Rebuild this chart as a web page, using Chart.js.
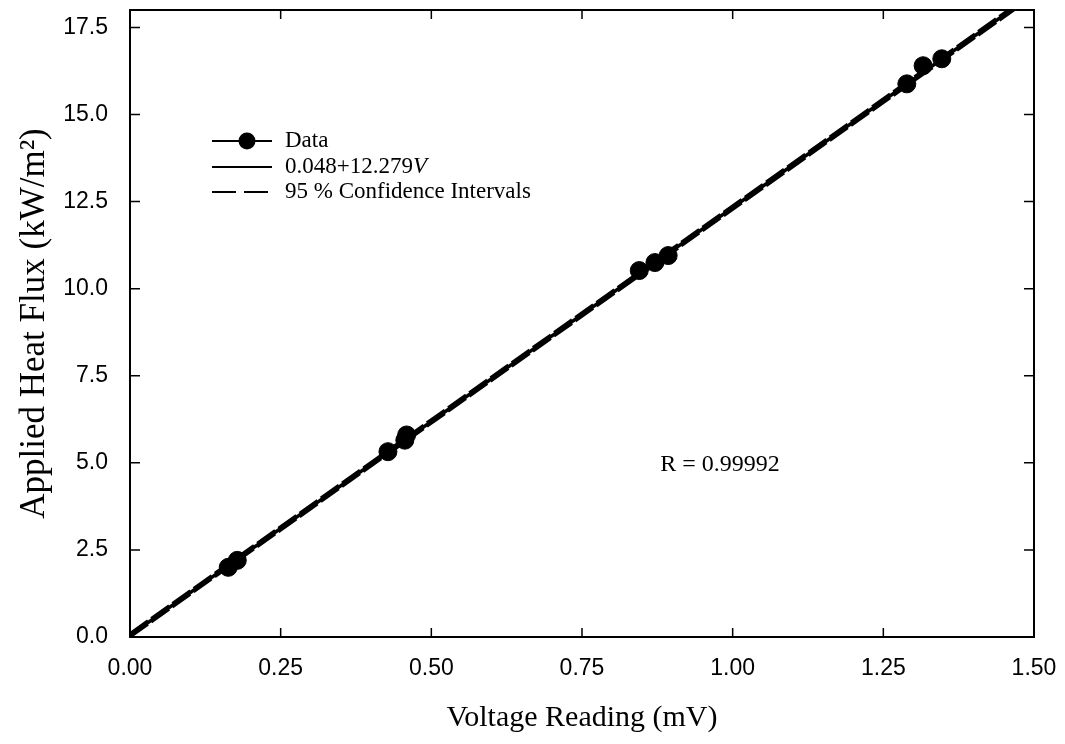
<!DOCTYPE html>
<html>
<head>
<meta charset="utf-8">
<script src="https://cdn.jsdelivr.net/npm/chart.js@4.4.0/dist/chart.umd.min.js"></script>
<style>
  html, body { margin: 0; padding: 0; background: #fff; }
  #wrap { width: 1065px; height: 744px; }
</style>
</head>
<body>
<div id="wrap"><canvas id="heatChart" width="1065" height="744"></canvas></div>
<script>
// measured points (voltage in mV, heat flux in kW/m2)
const voltage = [0.163, 0.178, 0.428, 0.456, 0.459, 0.845, 0.871, 0.893, 1.289, 1.316, 1.347];
const heatFlux = [2.00, 2.20, 5.32, 5.65, 5.80, 10.52, 10.75, 10.95, 15.88, 16.40, 16.60];

// regression line 0.048 + 12.279 V, end points
const fitX = [0, 1.5];
const fitY = [0.048, 18.467];
// 95 % confidence bands, end points
const ciUpperY = [0.10, 18.52];
const ciLowerY = [0.00, 18.41];

const xTicks = [0, 0.25, 0.5, 0.75, 1.0, 1.25, 1.5];
const yTicks = [0, 2.5, 5, 7.5, 10, 12.5, 15, 17.5];

const serif = '"Liberation Serif", "Times New Roman", serif';
const sans = '"Liberation Sans", Arial, sans-serif';

function pts(xs, ys) {
    return xs.map((x, i) => ({ x: x, y: ys[i] }));
}

// frame, inward ticks, legend and R label
const decorPlugin = {
    id: 'decor',
    afterDraw(chart) {
        const ctx = chart.ctx;
        const a = chart.chartArea;
        const xs = chart.scales.x;
        const ys = chart.scales.y;
        ctx.save();
        ctx.strokeStyle = '#000';
        ctx.lineWidth = 2;
        ctx.strokeRect(a.left, a.top, a.right - a.left, a.bottom - a.top);

        ctx.lineWidth = 1.5;
        ctx.beginPath();
        xTicks.forEach(v => {
            const px = xs.getPixelForValue(v);
            ctx.moveTo(px, a.bottom); ctx.lineTo(px, a.bottom - 9);
            ctx.moveTo(px, a.top); ctx.lineTo(px, a.top + 9);
        });
        yTicks.forEach(v => {
            const py = ys.getPixelForValue(v);
            ctx.moveTo(a.left, py); ctx.lineTo(a.left + 10, py);
            ctx.moveTo(a.right, py); ctx.lineTo(a.right - 10, py);
        });
        ctx.stroke();

        // legend
        const lx0 = 212, lx1 = 272, tx = 285;
        const rows = [141, 167, 192];
        ctx.fillStyle = '#000';
        ctx.strokeStyle = '#000';
        ctx.lineWidth = 2;
        ctx.beginPath();
        ctx.moveTo(lx0, rows[0]); ctx.lineTo(lx1, rows[0]);
        ctx.stroke();
        ctx.beginPath();
        ctx.arc(247, rows[0], 8.5, 0, Math.PI * 2);
        ctx.fill();
        ctx.beginPath();
        ctx.moveTo(lx0, rows[1]); ctx.lineTo(lx1, rows[1]);
        ctx.stroke();
        ctx.setLineDash([24, 8]);
        ctx.beginPath();
        ctx.moveTo(lx0, rows[2]); ctx.lineTo(lx1, rows[2]);
        ctx.stroke();
        ctx.setLineDash([]);

        ctx.textBaseline = 'middle';
        ctx.textAlign = 'left';
        ctx.font = '23px ' + serif;
        ctx.fillText('Data', tx, rows[0]);
        const eq = '0.048+12.279';
        ctx.fillText(eq, tx, rows[1]);
        const w = ctx.measureText(eq).width;
        ctx.font = 'italic 23px ' + serif;
        ctx.fillText('V', tx + w, rows[1]);
        ctx.font = '23px ' + serif;
        ctx.fillText('95 % Confidence Intervals', tx, rows[2]);

        ctx.font = '24px ' + serif;
        ctx.textAlign = 'center';
        ctx.fillText('R = 0.99992', 720, 465);
        ctx.restore();
    }
};

const ctx = document.getElementById('heatChart').getContext('2d');
new Chart(ctx, {
    type: 'scatter',
    data: {
        datasets: [
            {
                label: '95 % Confidence Intervals',
                data: pts(fitX, ciUpperY),
                showLine: true,
                borderColor: '#000',
                borderWidth: 3,
                borderDash: [22, 4],
                pointRadius: 0
            },
            {
                label: '95 % Confidence Intervals (lower)',
                data: pts(fitX, ciLowerY),
                showLine: true,
                borderColor: '#000',
                borderWidth: 3,
                borderDash: [22, 4],
                pointRadius: 0
            },
            {
                label: '0.048+12.279V',
                data: pts(fitX, fitY),
                showLine: true,
                borderColor: '#000',
                borderWidth: 3.5,
                pointRadius: 0
            },
            {
                label: 'Data',
                data: pts(voltage, heatFlux),
                showLine: false,
                backgroundColor: '#000',
                borderColor: '#000',
                pointRadius: 9,
                pointHoverRadius: 9
            }
        ]
    },
    options: {
        responsive: false,
        animation: false,
        events: [],
        layout: { padding: { top: 9, right: 31, left: 0, bottom: 0 } },
        plugins: {
            legend: { display: false },
            tooltip: { enabled: false }
        },
        scales: {
            x: {
                type: 'linear',
                min: 0,
                max: 1.5,
                afterFit: s => { s.height = 107; s.paddingLeft = 0; s.paddingRight = 0; },
                afterBuildTicks: s => { s.ticks = xTicks.map(v => ({ value: v })); },
                grid: { display: false },
                border: { display: false },
                ticks: {
                    color: '#000',
                    padding: 10,
                    maxRotation: 0,
                    font: { family: sans, size: 23 },
                    callback: v => Number(v).toFixed(2)
                },
                title: {
                    display: true,
                    text: 'Voltage Reading (mV)',
                    color: '#000',
                    font: { family: serif, size: 30 },
                    padding: { top: 0, bottom: 8 }
                }
            },
            y: {
                type: 'linear',
                min: 0,
                max: 18,
                afterFit: s => { s.width = 130; s.paddingTop = 0; s.paddingBottom = 0; },
                afterBuildTicks: s => { s.ticks = yTicks.map(v => ({ value: v })); },
                grid: { display: false },
                border: { display: false },
                ticks: {
                    color: '#000',
                    padding: 14,
                    font: { family: sans, size: 23 },
                    callback: v => Number(v).toFixed(1)
                },
                title: {
                    display: true,
                    text: 'Applied Heat Flux (kW/m²)',
                    color: '#000',
                    font: { family: serif, size: 35 },
                    padding: { top: 14, bottom: 0 }
                }
            }
        }
    },
    plugins: [decorPlugin]
});
</script>
</body>
</html>
